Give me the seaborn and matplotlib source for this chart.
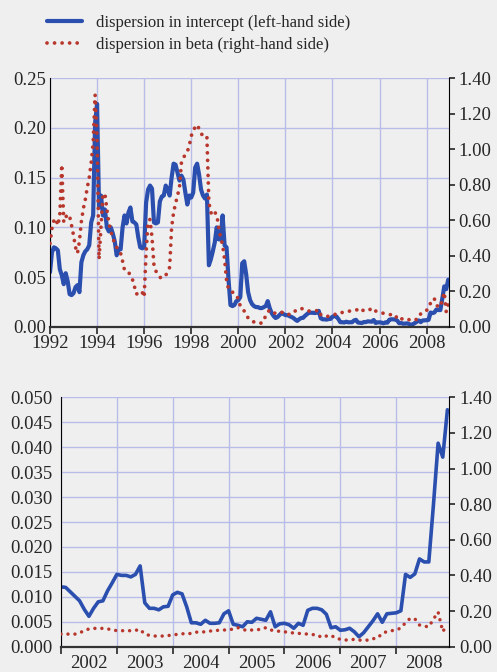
import numpy as np
import pandas as pd
import seaborn as sns
import matplotlib.pyplot as plt
from matplotlib.ticker import (MultipleLocator, FormatStrFormatter, FixedLocator,
                               FixedFormatter, NullFormatter)

# monthly observations, Jan 1992 - Dec 2008
# dispersion in intercept (left-hand axis)
intercept_disp = [
    0.055, 0.075, 0.080, 0.079, 0.077, 0.058, 0.052, 0.043, 0.054, 0.046, 0.033, 0.032,  # 1992
    0.034, 0.040, 0.042, 0.035, 0.065, 0.072, 0.076, 0.078, 0.082, 0.105, 0.112, 0.205,  # 1993
    0.224, 0.120, 0.132, 0.112, 0.118, 0.100, 0.096, 0.100, 0.094, 0.086, 0.072, 0.078,  # 1994
    0.078, 0.100, 0.112, 0.104, 0.115, 0.120, 0.106, 0.105, 0.103, 0.090, 0.080, 0.079,  # 1995
    0.080, 0.125, 0.138, 0.142, 0.139, 0.105, 0.104, 0.105, 0.126, 0.131, 0.132, 0.142,  # 1996
    0.138, 0.132, 0.150, 0.164, 0.163, 0.155, 0.147, 0.152, 0.148, 0.135, 0.123, 0.132,  # 1997
    0.130, 0.135, 0.160, 0.164, 0.153, 0.138, 0.132, 0.129, 0.133, 0.062, 0.068, 0.076,  # 1998
    0.085, 0.100, 0.088, 0.088, 0.112, 0.082, 0.080, 0.048, 0.022, 0.021, 0.022, 0.026,  # 1999
    0.027, 0.030, 0.064, 0.066, 0.053, 0.035, 0.027, 0.023, 0.021, 0.020, 0.020, 0.019,  # 2000
    0.019, 0.020, 0.021, 0.026, 0.019, 0.014, 0.011, 0.009, 0.010, 0.012, 0.014, 0.013,  # 2001
    0.0120, 0.0119, 0.0110, 0.0101, 0.0092, 0.0075, 0.0061, 0.0077, 0.0090, 0.0092, 0.0112, 0.0128,  # 2002
    0.0145, 0.0143, 0.0143, 0.0140, 0.0145, 0.0162, 0.0088, 0.0077, 0.0077, 0.0074, 0.0080, 0.0081,  # 2003
    0.0104, 0.0109, 0.0106, 0.0080, 0.0048, 0.0048, 0.0045, 0.0053, 0.0047, 0.0047, 0.0048, 0.0066,  # 2004
    0.0072, 0.0045, 0.0043, 0.0040, 0.0050, 0.0049, 0.0057, 0.0055, 0.0053, 0.0070, 0.0040, 0.0046,  # 2005
    0.0047, 0.0044, 0.0037, 0.0047, 0.0043, 0.0073, 0.0077, 0.0077, 0.0074, 0.0065, 0.0038, 0.0040,  # 2006
    0.0033, 0.0034, 0.0037, 0.0030, 0.0020, 0.0028, 0.0040, 0.0052, 0.0066, 0.0049, 0.0066, 0.0067,  # 2007
    0.0068, 0.0072, 0.0145, 0.0139, 0.0146, 0.0176, 0.0170, 0.0170, 0.0285, 0.0408, 0.0380, 0.0475,  # 2008
]

# dispersion in beta (right-hand axis)
beta_disp = [
    0.470, 0.554, 0.599, 0.610, 0.571, 0.627, 0.913, 0.594, 0.627, 0.610, 0.622, 0.571,  # 1992
    0.515, 0.448, 0.414, 0.482, 0.594, 0.666, 0.717, 0.784, 0.840, 0.924, 1.036, 1.305,  # 1993
    1.064, 0.381, 0.560, 0.745, 0.750, 0.661, 0.588, 0.538, 0.504, 0.465, 0.448, 0.431,  # 1994
    0.414, 0.370, 0.319, 0.314, 0.308, 0.291, 0.269, 0.230, 0.185, 0.190, 0.202, 0.196,  # 1995
    0.168, 0.420, 0.594, 0.605, 0.504, 0.347, 0.314, 0.297, 0.280, 0.274, 0.280, 0.291,  # 1996
    0.308, 0.336, 0.560, 0.644, 0.694, 0.739, 0.784, 0.924, 0.952, 0.969, 0.986, 1.019,  # 1997
    1.075, 1.098, 1.126, 1.137, 1.114, 1.092, 1.070, 1.075, 1.064, 0.700, 0.644, 0.627,  # 1998
    0.644, 0.633, 0.560, 0.504, 0.459, 0.381, 0.263, 0.213, 0.202, 0.196, 0.190, 0.179,  # 1999
    0.157, 0.118, 0.101, 0.090, 0.073, 0.050, 0.039, 0.034, 0.028, 0.028, 0.028, 0.022,  # 2000
    0.022, 0.034, 0.067, 0.084, 0.095, 0.090, 0.078, 0.078, 0.078, 0.084, 0.084, 0.078,  # 2001
    0.071, 0.071, 0.071, 0.071, 0.078, 0.090, 0.100, 0.103, 0.103, 0.103, 0.100, 0.095,  # 2002
    0.090, 0.090, 0.090, 0.090, 0.092, 0.097, 0.070, 0.064, 0.060, 0.060, 0.060, 0.063,  # 2003
    0.065, 0.070, 0.073, 0.072, 0.075, 0.082, 0.082, 0.084, 0.088, 0.090, 0.093, 0.094,  # 2004
    0.094, 0.100, 0.107, 0.098, 0.090, 0.094, 0.096, 0.097, 0.107, 0.094, 0.090, 0.086,  # 2005
    0.084, 0.080, 0.077, 0.075, 0.073, 0.071, 0.068, 0.067, 0.052, 0.060, 0.064, 0.048,  # 2006
    0.042, 0.037, 0.040, 0.041, 0.037, 0.037, 0.037, 0.045, 0.049, 0.075, 0.085, 0.090,  # 2007
    0.094, 0.105, 0.135, 0.159, 0.157, 0.122, 0.115, 0.112, 0.155, 0.195, 0.085, 0.125,  # 2008
]

lbl_intercept = "dispersion in intercept (left-hand side)"
lbl_beta = "dispersion in beta (right-hand side)"
zoom_years = [2002, 2003, 2004, 2005, 2006, 2007, 2008]

BG = "#efefef"
BLUE = "#2b4fae"
RED = "#b8372d"
GRID = "#b7bce8"

sns.set_style("ticks", {"axes.facecolor": BG, "figure.facecolor": BG})
plt.rcParams["font.family"] = ["Liberation Serif", "DejaVu Serif"]
plt.rcParams["font.size"] = 13.5

months = pd.date_range("1992-01-01", "2008-12-01", freq="MS")
df = pd.DataFrame({
    "t": months.year + (months.month - 1) / 12.0,
    "intercept": intercept_disp,
    "beta": beta_disp,
})
df_zoom = df[df["t"] >= zoom_years[0]].reset_index(drop=True)

fig = plt.figure(figsize=(4.97, 6.72), dpi=100)
ax1 = fig.add_axes([0.1006, 0.5134, 0.8028, 0.3705])
ax2 = fig.add_axes([0.1227, 0.0376, 0.7813, 0.3712])

dot_style = dict(linestyle=(0, (0.01, 2.0)), dash_capstyle="round")


def style_pair(ax, axr, xlim, ylim, ystep, yfmt, ypad):
    ax.set_xlim(*xlim)
    ax.set_ylim(*ylim)
    axr.set_ylim(0, 1.4)
    ax.yaxis.set_major_locator(MultipleLocator(ystep))
    ax.yaxis.set_major_formatter(FormatStrFormatter(yfmt))
    axr.yaxis.set_major_locator(MultipleLocator(0.2))
    axr.yaxis.set_major_formatter(FormatStrFormatter("%.2f"))
    ax.grid(True, color=GRID, linewidth=1.0)
    ax.set_axisbelow(True)
    ax.set_xlabel("")
    ax.set_ylabel("")
    axr.set_ylabel("")
    for s in ["top", "right"]:
        ax.spines[s].set_visible(False)
    for s in ["top", "left", "bottom"]:
        axr.spines[s].set_visible(False)
    ax.spines["left"].set_color("black")
    ax.spines["bottom"].set_color("#333333")
    ax.spines["bottom"].set_linewidth(1.6)
    axr.spines["right"].set_color("black")
    ax.tick_params(axis="y", length=0, pad=ypad, labelsize=13.5)
    ax.tick_params(axis="x", direction="out", length=5, width=1.2, pad=1, labelsize=13.5)
    axr.tick_params(axis="y", direction="out", length=4, width=1.2, pad=3, labelsize=13.5)


# top panel: full sample
sns.lineplot(data=df, x="t", y="intercept", ax=ax1, color=BLUE, linewidth=3.0,
             label=lbl_intercept, legend=False)
ax1r = ax1.twinx()
sns.lineplot(data=df, x="t", y="beta", ax=ax1r, color=RED, linewidth=2.7,
             label=lbl_beta, legend=False, **dot_style)
style_pair(ax1, ax1r, (1992, 2008.95), (0, 0.25), 0.05, "%.2f", 3)
ax1.xaxis.set_major_locator(MultipleLocator(2))
ax1.xaxis.set_major_formatter(FormatStrFormatter("%d"))

# bottom panel: 2002 onwards
sns.lineplot(data=df_zoom, x="t", y="intercept", ax=ax2, color=BLUE, linewidth=2.6, legend=False)
ax2r = ax2.twinx()
sns.lineplot(data=df_zoom, x="t", y="beta", ax=ax2r, color=RED, linewidth=2.5,
             legend=False, **dot_style)
style_pair(ax2, ax2r, (2002, 2008.95), (0, 0.05), 0.005, "%.3f", 6)
ax2.xaxis.set_major_locator(FixedLocator(zoom_years))
ax2.xaxis.set_major_formatter(NullFormatter())
ax2.xaxis.set_minor_locator(FixedLocator([y + 0.5 for y in zoom_years]))
ax2.xaxis.set_minor_formatter(FixedFormatter([str(y) for y in zoom_years]))
ax2.tick_params(axis="x", which="minor", length=0, pad=6, labelsize=13.5)

# shared legend above the panels
h1, l1 = ax1.get_legend_handles_labels()
h2, l2 = ax1r.get_legend_handles_labels()
fig.legend(h1 + h2, l1 + l2, loc="upper left", bbox_to_anchor=(0.094, 0.978),
           frameon=False, fontsize=12, handlelength=2.1, handletextpad=0.85,
           labelspacing=0.38, borderpad=0, borderaxespad=0)

fig.savefig("out.png", dpi=100, facecolor=BG)
